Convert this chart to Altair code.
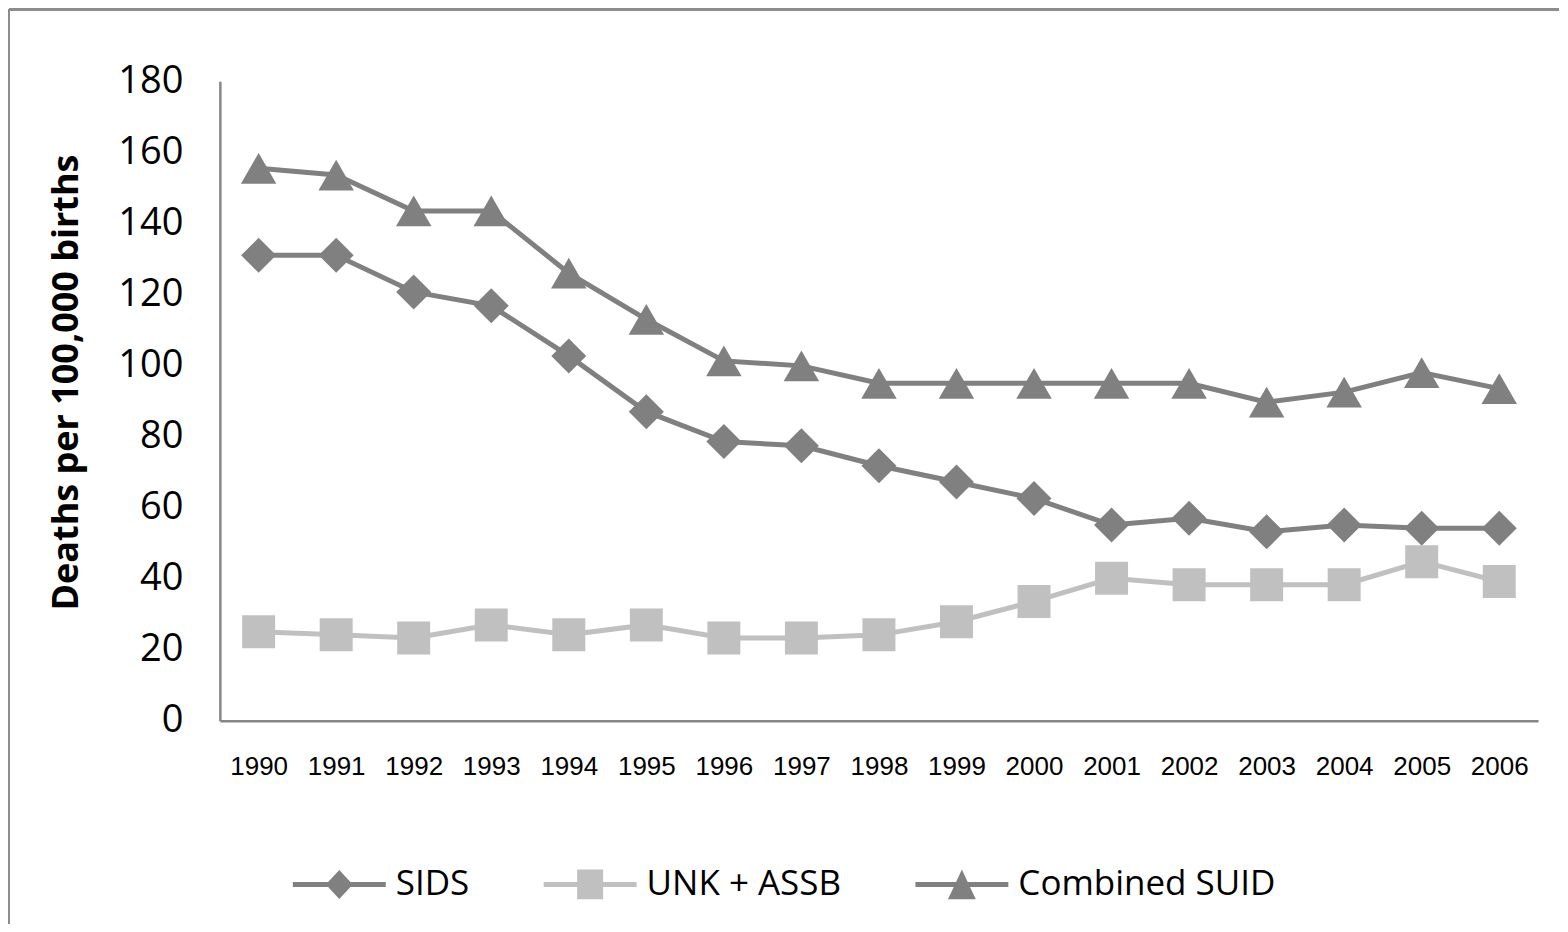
import altair as alt
import pandas as pd

years = [str(y) for y in range(1990, 2007)]
sids = [131, 131, 120.7, 116.8, 102.7, 87, 78.6, 77.4, 71.8, 67.2, 62.6, 55.1, 57.0, 53.2, 55.1, 54.2, 54.2]
unk_assb = [25.1, 24.2, 23.3, 27, 24.2, 27, 23.3, 23.3, 24.2, 27.9, 33.6, 40.1, 38.3, 38.3, 38.3, 44.8, 39.2]
combined = [155.5, 153.6, 143.5, 143.5, 126, 113, 101.3, 99.9, 95, 95, 95, 95, 95, 89.7, 92.5, 98, 93.5]

series_names = ["SIDS", "UNK + ASSB", "Combined SUID"]
series_values = [sids, unk_assb, combined]
series_colors = ["#808080", "#c0c0c0", "#808080"]
marker_shapes = ["diamond", "square", "triangle-up"]
marker_sizes = [1225, 1089, 1260]
y_ticks = list(range(0, 181, 20))

legend_paths = [
    "M-1,-0.054L-0.24,-0.054L0,-0.31L0.24,-0.054L1,-0.054L1,0.054L0.24,0.054L0,0.31L-0.24,0.054L-1,0.054Z",
    "M-1,-0.054L-0.28,-0.054L-0.28,-0.32L0.28,-0.32L0.28,-0.054L1,-0.054L1,0.054L0.28,0.054L0.28,0.32L-0.28,0.32L-0.28,0.054L-1,0.054Z",
    "M-1,-0.054L-0.125,-0.054L0,-0.32L0.125,-0.054L1,-0.054L1,0.054L0.175,0.054L0.3,0.32L-0.3,0.32L-0.175,0.054L-1,0.054Z",
]

rows = []
for name, vals in zip(series_names, series_values):
    for yr, v in zip(years, vals):
        rows.append({"year": yr, "value": v, "series": name})
df = pd.DataFrame(rows)

W, H = 1319, 640

x_enc = alt.X(
    "year:O",
    sort=years,
    scale=alt.Scale(type="point", padding=0.5),
    axis=alt.Axis(
        title=None,
        labelAngle=0,
        labelFont="Liberation Sans",
        labelFontSize=26,
        labelColor="#000000",
        labelPadding=33,
        ticks=False,
        tickSize=0,
        domainColor="#868686",
        domainWidth=2.5,
        grid=False,
    ),
)
y_enc = alt.Y(
    "value:Q",
    scale=alt.Scale(domain=[0, 180], nice=False, zero=True),
    axis=alt.Axis(
        title="Deaths per 100,000 births",
        values=y_ticks,
        labelFont="Open Sans",
        labelFontSize=38,
        labelColor="#000000",
        labelPadding=37,
        ticks=False,
        tickSize=0,
        domainColor="#868686",
        domainWidth=2.5,
        grid=False,
        titleFont="Open Sans",
        titleFontWeight="bold",
        titleFontSize=36,
        titleColor="#000000",
        titleAngle=270,
        titleAlign="center",
        titleBaseline="alphabetic",
        titleX=-142,
        titleY=301,
    ),
)

base = alt.Chart(df)
layers = []
for name, color in zip(series_names, series_colors):
    layers.append(
        base.transform_filter(alt.datum.series == name)
        .mark_line(color=color, strokeWidth=5)
        .encode(x=x_enc, y=y_enc)
    )
for name, color, shp, sz in zip(series_names, series_colors, marker_shapes, marker_sizes):
    layers.append(
        base.transform_filter(alt.datum.series == name)
        .mark_point(filled=True, shape=shp, size=sz, color=color, opacity=1, strokeWidth=0)
        .encode(x=x_enc, y=y_enc)
    )

legend_props = dict(
    title=None,
    orient="none",
    direction="horizontal",
    legendX=73,
    legendY=757,
    symbolSize=8649,
    symbolOpacity=1,
    symbolStrokeWidth=0,
    labelFont="Open Sans",
    labelFontSize=35,
    labelColor="#000000",
    labelOffset=10,
    labelLimit=0,
    columnPadding=74,
)

legend_layer = base.mark_point(filled=True, opacity=0).encode(
    x=x_enc,
    y=y_enc,
    color=alt.Color(
        "series:N",
        scale=alt.Scale(domain=series_names, range=series_colors),
        legend=alt.Legend(**legend_props),
    ),
    shape=alt.Shape(
        "series:N",
        scale=alt.Scale(domain=series_names, range=legend_paths),
        legend=alt.Legend(**legend_props),
    ),
)

border_top = base.mark_rule(color="#8c8c8c", strokeWidth=2).encode(
    x=alt.value(-211), x2=alt.value(1552 - 212), y=alt.value(-72)
)
border_left = base.mark_rule(color="#8c8c8c", strokeWidth=2).encode(
    x=alt.value(-211), y=alt.value(-72), y2=alt.value(916 - 73)
)

chart = (
    alt.layer(border_top, border_left, *layers, legend_layer)
    .properties(width=W, height=H, padding=0, background="#ffffff")
    .configure_view(stroke=None)
)

chart.save("out.html", embed_options={"renderer": "svg", "actions": False})
